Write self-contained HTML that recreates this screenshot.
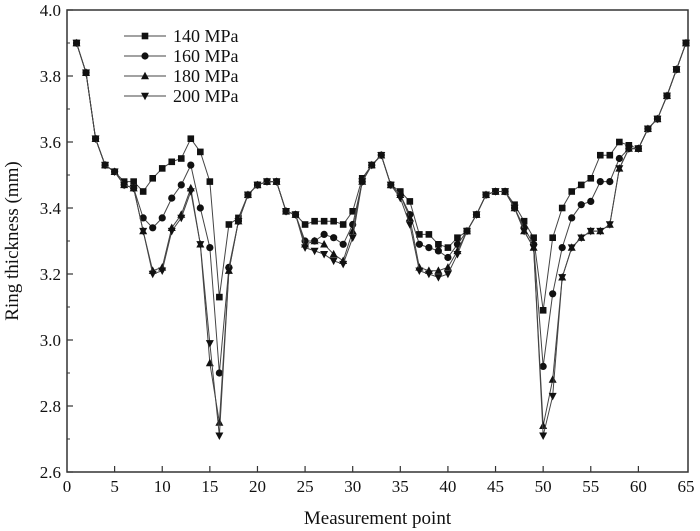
<!DOCTYPE html>
<html><head><meta charset="utf-8"><style>
body{margin:0;background:#fff;}
svg{display:block;font-family:"Liberation Serif",serif;}
</style></head><body>
<svg id="chart" width="700" height="531"></svg>
<script>
const categories=[];for(let i=1;i<=65;i++)categories.push(i);
const s140=[3.90,3.81,3.61,3.53,3.51,3.48,3.48,3.45,3.49,3.52,3.54,3.55,3.61,3.57,3.48,3.13,3.35,3.37,3.44,3.47,3.48,3.48,3.39,3.38,3.35,3.36,3.36,3.36,3.35,3.39,3.49,3.53,3.56,3.47,3.45,3.42,3.32,3.32,3.29,3.28,3.31,3.33,3.38,3.44,3.45,3.45,3.41,3.36,3.31,3.09,3.31,3.40,3.45,3.47,3.49,3.56,3.56,3.60,3.59,3.58,3.64,3.67,3.74,3.82,3.90];
const s160=[3.90,3.81,3.61,3.53,3.51,3.47,3.46,3.37,3.34,3.37,3.43,3.47,3.53,3.40,3.28,2.90,3.22,3.36,3.44,3.47,3.48,3.48,3.39,3.38,3.30,3.30,3.32,3.31,3.29,3.35,3.48,3.53,3.56,3.47,3.44,3.38,3.29,3.28,3.27,3.25,3.29,3.33,3.38,3.44,3.45,3.45,3.40,3.34,3.29,2.92,3.14,3.28,3.37,3.41,3.42,3.48,3.48,3.55,3.58,3.58,3.64,3.67,3.74,3.82,3.90];
const s180=[3.90,3.81,3.61,3.53,3.51,3.47,3.46,3.33,3.21,3.22,3.34,3.38,3.46,3.29,2.93,2.75,3.21,3.36,3.44,3.47,3.48,3.48,3.39,3.38,3.29,3.30,3.29,3.26,3.24,3.33,3.48,3.53,3.56,3.47,3.44,3.37,3.22,3.21,3.21,3.22,3.27,3.33,3.38,3.44,3.45,3.45,3.40,3.33,3.28,2.74,2.88,3.19,3.28,3.31,3.33,3.33,3.35,3.52,3.58,3.58,3.64,3.67,3.74,3.82,3.90];
const s200=[3.90,3.81,3.61,3.53,3.51,3.47,3.46,3.33,3.20,3.21,3.33,3.37,3.45,3.29,2.99,2.71,3.21,3.36,3.44,3.47,3.48,3.48,3.39,3.38,3.28,3.27,3.26,3.24,3.23,3.31,3.48,3.53,3.56,3.47,3.43,3.35,3.21,3.20,3.19,3.20,3.26,3.33,3.38,3.44,3.45,3.45,3.40,3.33,3.28,2.71,2.83,3.19,3.28,3.31,3.33,3.33,3.35,3.52,3.58,3.58,3.64,3.67,3.74,3.82,3.90];
const xTicks=[0,5,10,15,20,25,30,35,40,45,50,55,60,65];
const yTicks=[2.6,2.8,3.0,3.2,3.4,3.6,3.8,4.0];
const seriesNames=["140 MPa","160 MPa","180 MPa","200 MPa"];
const markers=["square","circle","up","down"];

const L=67,R=688,T=10,B=472;
const X=v=>L+(v-0)/65*(686-L);
const Y=v=>B-(v-2.6)/1.4*(B-T);
const NS="http://www.w3.org/2000/svg";
const svg=document.getElementById('chart');
function el(t,a,p){const e=document.createElementNS(NS,t);for(const k in a)e.setAttribute(k,a[k]);(p||svg).appendChild(e);return e;}
function marker(type,x,y,g){
  if(type==="square")return el('rect',{x:x-3.3,y:y-3.3,width:6.6,height:6.6,fill:'#111'},g);
  if(type==="circle")return el('circle',{cx:x,cy:y,r:3.6,fill:'#111'},g);
  if(type==="up")return el('polygon',{points:`${x},${y-4.3} ${x-4},${y+3.2} ${x+4},${y+3.2}`,fill:'#111'},g);
  return el('polygon',{points:`${x},${y+4.3} ${x-4},${y-3.2} ${x+4},${y-3.2}`,fill:'#111'},g);
}
const frame=el('rect',{x:L,y:T,width:R-L,height:B-T,fill:'none',stroke:'#333','stroke-width':1.5});


xTicks.forEach(v=>{
  const x=X(v);
  if(v>0&&v<65){const t=el('line',{x1:x,x2:x,y1:B,y2:B-6,stroke:'#333','stroke-width':1.2});
  
  }
  const tx=el('text',{x:x,y:B+20,'font-size':17,'text-anchor':'middle',fill:'#111'});tx.textContent=v;
  
  
});
yTicks.forEach((v,i)=>{
  const y=Y(v);
  const t=el('line',{x1:L,x2:L+6,y1:y,y2:y,stroke:'#333','stroke-width':1.2});
  
  
  if(i<yTicks.length-1){const m=Y(v+0.1);const mt=el('line',{x1:L,x2:L+3,y1:m,y2:m,stroke:'#333','stroke-width':1});
  
  }
  const tx=el('text',{x:L-6,y:y+6,'font-size':17,'text-anchor':'end',fill:'#111'});tx.textContent=v.toFixed(1);
  
  
});
const xt=el('text',{x:(L+R)/2,y:524,'font-size':19,'text-anchor':'middle',fill:'#111'});xt.textContent='Measurement point';


const yt=el('text',{x:0,y:0,'font-size':19,'text-anchor':'middle',fill:'#111',transform:`translate(18,${(T+B)/2}) rotate(-90)`});yt.textContent='Ring thickness (mm)';


[s140,s160,s180,s200].forEach((s,k)=>{
  const g=el('g',{});
  
  
  el('polyline',{points:s.map((v,i)=>X(categories[i])+','+Y(v)).join(' '),fill:'none',stroke:'#444','stroke-width':1},g);
  s.forEach((v,i)=>{const m=marker(markers[k],X(categories[i]),Y(v),g);
    
    });
  const ly=36+k*20;
  const lg=el('g',{},svg);
  
  
  el('line',{x1:124,x2:166,y1:ly,y2:ly,stroke:'#444','stroke-width':1},lg);
  marker(markers[k],145,ly,lg);
  const t=el('text',{x:173,y:ly+6,'font-size':18,fill:'#111'},lg);t.textContent=seriesNames[k];
});
</script>
</body></html>
